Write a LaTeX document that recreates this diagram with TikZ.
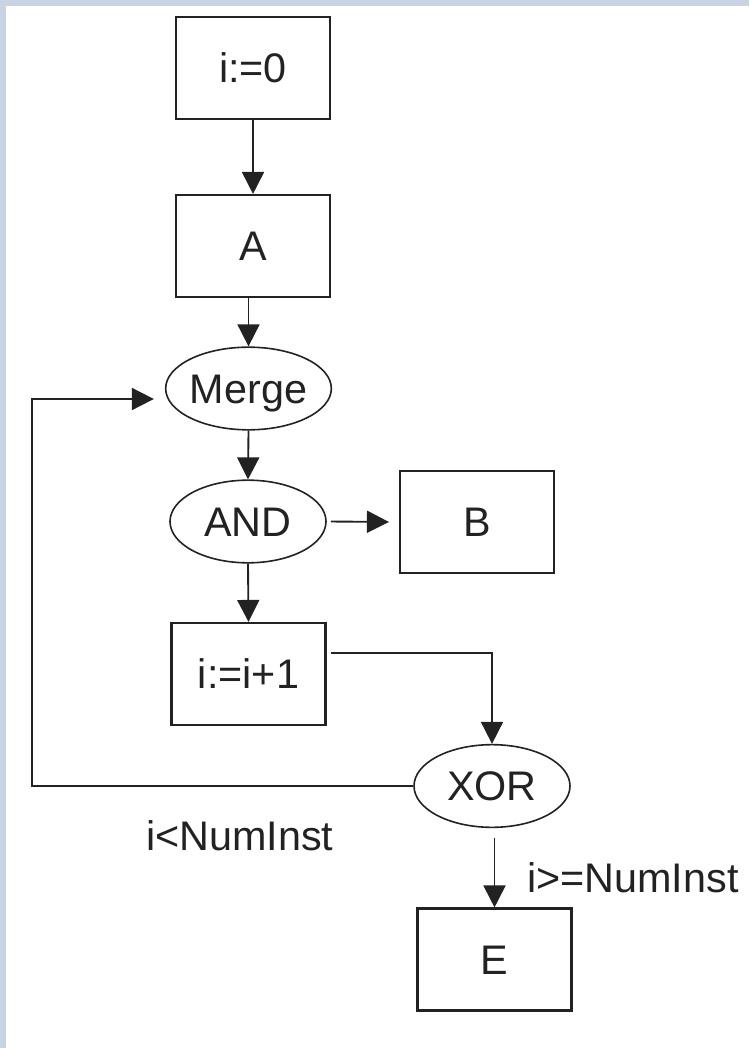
\documentclass[tikz,border=0pt]{standalone}
\usepackage{fontspec}
\setmainfont{Liberation Sans}
\usetikzlibrary{arrows.meta,shapes.geometric,calc}
\definecolor{framebg}{HTML}{C8D4E4}
\definecolor{ink}{HTML}{222222}
\begin{document}
\begin{tikzpicture}[x=0.75pt,y=-0.75pt,
  every node/.style={font=\fontsize{31}{36}\selectfont, text=ink},
  stepbox/.style={draw=ink, line width=1.6pt, rectangle, minimum width=115.5pt,
    minimum height=76.5pt, inner sep=0pt, text height=22.2pt, text depth=0pt},
  gate/.style={draw=ink, line width=1.2pt, ellipse, minimum width=117pt,
    minimum height=62pt, inner sep=0pt, text height=22.2pt, text depth=0pt},
  flow/.style={draw=ink, line width=1.4pt, -{Triangle[length=16.5pt,width=16.5pt]}},
  tag/.style={anchor=base west, inner sep=0pt}]

% page frame
\useasboundingbox (0,0) rectangle (749,1048);
\fill[framebg] (0,0) rectangle (749,6);
\fill[framebg] (0,0) rectangle (6,1048);

% activities and gateways
\node[stepbox] (init)  at (253,68)      {i:=0};
\node[stepbox] (a)     at (253,246)     {A};
\node[gate]    (merge) at (248.5,388.5) {Merge};
\node[gate]    (and)   at (248,521.5)   {AND};
\node[stepbox] (b)     at (477,522)     {B};
\node[stepbox] (inc)   at (248.5,674)   {i:=i+1};
\node[gate]    (xor)   at (492,786)     {XOR};
\node[stepbox] (e)     at (494.5,959.5) {E};

% branch conditions
\node[tag] (lt) at (146,850) {i<NumInst};
\node[tag] (ge) at (527,892) {i>=NumInst};

% control flow
\draw[flow] (init.south) -- (a.north);
\draw[flow] (a.south -| merge.north) -- (merge.north);
\draw[flow] (merge.south) -- (and.north);
\draw[flow, shorten <=3pt, shorten >=7.5pt] (and.east) -- (b.west);
\draw[flow] (and.south) -- (inc.north);

\coordinate (incout) at ($(inc.east)+(4,-21)$);
\draw[flow] (incout) -| (xor.north);

\coordinate (loopx) at (32,0);
\coordinate (mergein) at ($(merge.west)+(-11,10.5)$);
\draw[flow] (xor.west) -| (loopx |- mergein) -- (mergein);

\draw[flow, shorten <=7.5pt] (xor.south -| e.north) -- (e.north);
\end{tikzpicture}
\end{document}
